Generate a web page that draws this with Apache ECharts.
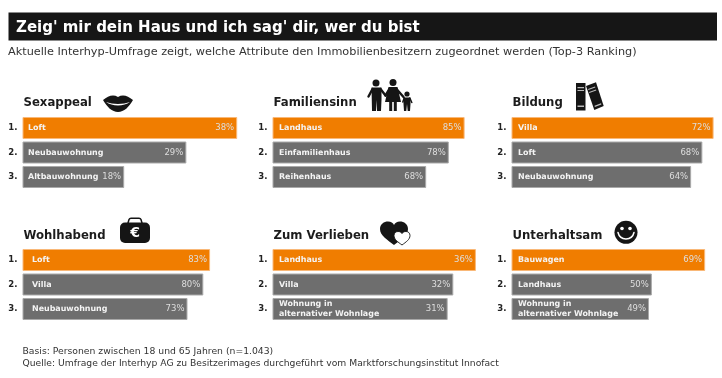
<!DOCTYPE html>
<html><head><meta charset="utf-8">
<style>html,body{margin:0;padding:0;background:#fff}#c{width:722px;height:378px}</style>
<script src="https://cdn.jsdelivr.net/npm/echarts@6/dist/echarts.min.js"></script>
</head><body><div id="c"></div>
<script>
const ranks = ['1.', '2.', '3.'];
const sexappealNames = ['Loft', 'Neubauwohnung', 'Altbauwohnung'];
const sexappealValues = [38, 29, 18];
const familiensinnNames = ['Landhaus', 'Einfamilienhaus', 'Reihenhaus'];
const familiensinnValues = [85, 78, 68];
const bildungNames = ['Villa', 'Loft', 'Neubauwohnung'];
const bildungValues = [72, 68, 64];
const wohlhabendNames = ['Loft', 'Villa', 'Neubauwohnung'];
const wohlhabendValues = [83, 80, 73];
const verliebenNames = ['Landhaus', 'Villa', 'Wohnung in\nalternativer Wohnlage'];
const verliebenValues = [36, 32, 31];
const unterhaltsamNames = ['Bauwagen', 'Landhaus', 'Wohnung in\nalternativer Wohnlage'];
const unterhaltsamValues = [69, 50, 49];

const FONT = '"DejaVu Sans", Verdana, sans-serif';
const panels = [
  {t:'Sexappeal', n:sexappealNames, v:sexappealValues, x:22.5, y:115.75, max:40, w:226, pad:5.5, ty:105},
  {t:'Familiensinn', n:familiensinnNames, v:familiensinnValues, x:272.5, y:115.75, max:100, w:226, pad:6.5, ty:105},
  {t:'Bildung', n:bildungNames, v:bildungValues, x:511.5, y:115.75, max:75, w:211.8, pad:6.5, ty:105},
  {t:'Wohlhabend', n:wohlhabendNames, v:wohlhabendValues, x:22.5, y:247.75, max:100, w:226, pad:9.5, ty:237.5},
  {t:'Zum Verlieben', n:verliebenNames, v:verliebenValues, x:272.5, y:247.75, max:40, w:226, pad:6.5, ty:237.5},
  {t:'Unterhaltsam', n:unterhaltsamNames, v:unterhaltsamValues, x:511.5, y:247.75, max:75, w:211.8, pad:6.5, ty:237.5}
];
const ORANGE='#f07d00', GRAY='#6e6e6e';

const grid=[],xAxis=[],yAxis=[],series=[],title=[];
panels.forEach((p,i)=>{
  grid.push({left:p.x,top:p.y,width:p.w,height:73.5});
  xAxis.push({gridIndex:i,type:'value',min:0,max:p.max,show:false});
  yAxis.push({gridIndex:i,type:'category',inverse:true,data:ranks,
    axisLine:{show:false},axisTick:{show:false},
    axisLabel:{margin:5,color:'#222',fontFamily:FONT,fontWeight:'bold',fontSize:8.5}});
  const styled=p.v.map((val,k)=>({value:val,itemStyle:{color:k===0?ORANGE:GRAY,
    borderColor:k===0?'#f9b878':'#a9a9a9',borderWidth:1}}));
  series.push({type:'bar',xAxisIndex:i,yAxisIndex:i,data:styled,barWidth:22,barGap:'-100%',silent:true,
    label:{show:true,position:'insideRight',distance:3,formatter:'{c}%',color:'#dedede',fontFamily:FONT,fontSize:8.5}});
  series.push({type:'bar',xAxisIndex:i,yAxisIndex:i,data:p.v,barWidth:22,barGap:'-100%',silent:true,
    itemStyle:{color:'rgba(0,0,0,0)'},
    label:{show:true,position:'insideLeft',distance:p.pad,lineHeight:10,
      formatter:o=>p.n[o.dataIndex],color:'#f4f4f4',fontFamily:FONT,fontWeight:'bold',fontSize:7.95}});
  title.push({text:p.t,left:p.x+1,top:p.ty-8,padding:0,textStyle:{fontFamily:FONT,fontWeight:'bold',fontSize:11.7,color:'#1c1c1c'}});
});
title.push({text:"Zeig' mir dein Haus und ich sag' dir, wer du bist",left:16,top:20.5,padding:0,
  textStyle:{fontFamily:FONT,fontWeight:'bold',fontSize:15,color:'#fff'}});
title.push({text:'Aktuelle Interhyp-Umfrage zeigt, welche Attribute den Immobilienbesitzern zugeordnet werden (Top-3 Ranking)',left:8,top:47,padding:0,
  textStyle:{fontFamily:FONT,fontWeight:'normal',fontSize:11.27,color:'#333'}});
title.push({text:'Basis: Personen zwischen 18 und 65 Jahren (n=1.043)',left:22.5,top:347,padding:0,
  textStyle:{fontFamily:FONT,fontWeight:'normal',fontSize:9.25,color:'#333'}});
title.push({text:'Quelle: Umfrage der Interhyp AG zu Besitzerimages durchgeführt vom Marktforschungsinstitut Innofact',left:22.5,top:359.5,padding:0,
  textStyle:{fontFamily:FONT,fontWeight:'normal',fontSize:9.2,color:'#333'}});

const K='#151515';
let shapeId=0;
function pathEl(d,style){
  const name='iconPath'+(shapeId++);
  echarts.graphic.registerShape(name,echarts.graphic.extendPath(d,{}));
  return {type:name,style,silent:true};
}
const P=(d,fill=K,extra={})=>pathEl(d,Object.assign({fill},extra));
const S=(d,stroke=K,w=2.4)=>pathEl(d,{fill:'none',stroke,lineWidth:w,lineCap:'round'});
const C=(x,y,r,fill=K)=>({type:'circle',shape:{cx:x,cy:y,r},style:{fill},silent:true});
const graphic=[
  {type:'rect',shape:{x:8.5,y:12.5,width:708.5,height:28},style:{fill:'#161616'},z:-1},
  // lips
  P('M103 100 C108 96 113 94 118 97 C123 94 128 96 133 100 C129 107 124 112 118 112 C112 112 107 107 103 100Z'),
  P('M106 102 C113 104.5 123 104.5 130 102 C124 106.5 112 106.5 106 102Z','#fff'),
  // family
  C(376,83,3.5),
  P('M371.5 87.5 H381.5 L381.5 100 L381 111 H377 L376.5 100 L376 111 H372 Z'),
  S('M372.5 89 L368.5 96.5'), S('M380.5 89 L385.5 95.5'),
  C(393,82.5,3.5),
  P('M388.5 87 H397.5 L401 102 H396.8 V111 H393.8 V102 H392.2 V111 H389.2 V102 H385 Z'),
  S('M389.5 89 L385.5 95.5'), S('M396.5 89 L403.5 97'),
  C(407,94,2.6),
  P('M403.5 97.5 H410.5 V104 L410 111 H407.7 L407 104 L406.3 111 H404 L403.5 104 Z'),
  S('M404.2 98 L402.8 102',K,1.5), S('M409.8 98 L411.8 102.5',K,1.5),
  // books
  P('M576 83 H585.5 V110.5 H576 Z'),
  P('M577.5 87 H584 V88.3 H577.5 Z M577.5 90 H584 V91 H577.5 Z M577.5 105.5 H584 V107 H577.5 Z','#bbb'),
  P('M586 86 L596 82.3 L603.7 106 L594.3 110 Z'),
  P('M588 89 L595 86.5 L595.4 87.6 L588.4 90.1 Z M589 92 L596 89.5 L596.3 90.4 L589.3 92.9 Z M594.5 105.8 L601 103.3 L601.4 104.5 L594.9 107 Z','#bbb'),
  // bag
  S('M128 223 L129 219.5 Q129.5 218.2 131 218.2 H139 Q140.5 218.2 141 219.5 L142 223',K,1.5),
  {type:'rect',shape:{x:120,y:222.5,width:30,height:20.5,r:5},style:{fill:K}},
  {type:'text',style:{x:135,y:233.5,text:'€',fill:'#fff',font:'bold 14px "DejaVu Sans"',align:'center',verticalAlign:'middle'}},
  // hearts
  P('M394 245 C388 240 380 236 380 229 C380 224 384 221.5 388 221.5 C391 221.5 393 223 394 225 C395 223 397 221.5 400 221.5 C404 221.5 408 224 408 229 C408 236 400 240 394 245Z'),
  P('M402 245 C398 242 394 239.5 394 235.5 C394 233 396 231.5 398 231.5 C400 231.5 401 232.2 402 233.5 C403 232.2 404 231.5 406 231.5 C408.2 231.5 410 233 410 235.5 C410 239.5 406 242 402 245Z','#fff',{stroke:K,lineWidth:0.9}),
  // smiley
  C(626,232.3,11.5),
  C(622,228.5,1.8,'#fff'),C(630,228.5,1.8,'#fff'),
  S('M618 232.5 C620 241 632 241 634 232.5','#fff',1.5)
];

const chart=echarts.init(document.getElementById('c'),null,{renderer:'canvas'});
chart.setOption({animation:false,backgroundColor:'#fff',title,grid,xAxis,yAxis,series,graphic});
</script></body></html>
